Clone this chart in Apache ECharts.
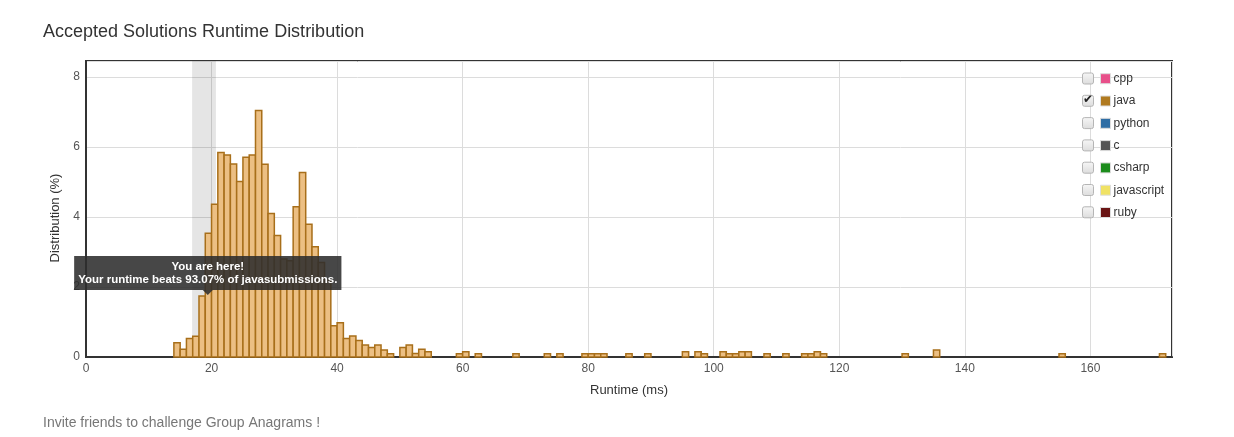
<!DOCTYPE html>
<html>
<head>
<meta charset="utf-8">
<script src="https://cdn.jsdelivr.net/npm/echarts@6/dist/echarts.min.js"></script>
<style>html,body{margin:0;padding:0;background:#fff}#c{width:1234px;height:437px}</style>
</head>
<body>
<div id="c"></div>
<script>
// Runtime bins (ms) — each bar spans [runtime, runtime+1)
var runtimes = [14,15,16,17,18,19,20,21,22,23,24,25,26,27,28,29,30,31,32,33,34,35,36,37,38,39,40,41,42,43,44,45,46,47,48,
  50,51,52,53,54,59,60,62,68,73,75,79,80,81,82,86,89,95,97,98,101,102,103,104,105,108,111,114,115,116,117,130,135,155,171];
// Distribution (%) for java
var distribution = [0.41,0.22,0.53,0.59,1.74,3.53,4.36,5.84,5.77,5.51,5.01,5.70,5.77,7.04,5.50,4.10,3.47,2.80,2.75,4.29,
  5.27,3.79,3.15,2.70,2.20,0.89,0.98,0.53,0.60,0.47,0.34,0.27,0.34,0.20,0.09,
  0.27,0.34,0.10,0.22,0.15,0.09,0.15,0.09,0.09,0.09,0.09,0.09,0.09,0.09,0.09,0.09,0.09,0.15,0.15,0.09,
  0.15,0.09,0.09,0.15,0.15,0.09,0.09,0.09,0.09,0.15,0.09,0.09,0.20,0.09,0.09];
var languages = ['cpp','java','python','c','csharp','javascript','ruby'];
var langColors = ['#e8508a','#b07a20','#2f6ea5','#555555','#1c8c1c','#f0e264','#6a1515'];
var checked = ['java'];
var yourRange = [16.9, 20.7];
var yourPoint = [19.4, 1.84];
var beatsText = 'Your runtime beats 93.07% of javasubmissions.';

var FONT = '"Liberation Sans", Arial, Helvetica, sans-serif';
var chart = echarts.init(document.getElementById('c'));

var histData = runtimes.map(function (r, i) { return [r, distribution[i]]; });

var series = [];
languages.forEach(function (lang, i) {
  if (lang === 'java') {
    series.push({
      name: 'java', type: 'custom', z: 3,
      data: histData,
      encode: { x: 0, y: 1 },
      renderItem: function (params, api) {
        var k = api.value(0), v = api.value(1);
        var p1 = api.coord([k, v]);
        var p0 = api.coord([k + 1, 0]);
        return {
          type: 'rect',
          shape: { x: p1[0], y: p1[1], width: p0[0] - p1[0], height: p0[1] - p1[1] },
          style: { fill: '#ecbf83', stroke: '#a86f1a', lineWidth: 1.5 }
        };
      },
      itemStyle: { color: langColors[i] },
      markPoint: {
        symbol: 'triangle', symbolRotate: 180, symbolSize: [10, 5],
        itemStyle: { color: 'rgba(45,45,45,0.88)' },
        label: {
          show: true, position: 'top', distance: 0,
          formatter: 'You are here!\n' + beatsText,
          backgroundColor: 'rgba(45,45,45,0.88)', color: '#fff',
          fontFamily: FONT, fontWeight: 'bold', fontSize: 11.5, lineHeight: 13,
          align: 'center', padding: [4, 4, 4, 4]
        },
        data: [{ coord: yourPoint }]
      }
    });
  } else {
    series.push({ name: lang, type: 'line', data: [], itemStyle: { color: langColors[i] } });
  }
});
series.push({
  name: 'band', type: 'line', data: [], silent: true,
  markArea: { silent: true, itemStyle: { color: 'rgba(0,0,0,0.1)' }, data: [[{ xAxis: yourRange[0] }, { xAxis: yourRange[1] }]] }
});

var graphics = [];
languages.forEach(function (lang, i) {
  var top = 72.5 + i * 22.3;
  graphics.push({
    type: 'rect', left: 1082, top: top, z: 10,
    shape: { width: 11, height: 11, r: 2 },
    style: { fill: new echarts.graphic.LinearGradient(0, 0, 0, 1, [{ offset: 0, color: '#f7f7f7' }, { offset: 1, color: '#dcdcdc' }]), stroke: '#b5b5b5', lineWidth: 1 }
  });
  if (checked.indexOf(lang) >= 0) {
    graphics.push({
      type: 'text', left: 1083, top: top - 1, z: 11,
      style: { text: '✔', fill: '#222', font: '12px "DejaVu Sans"' }
    });
  }
});

chart.setOption({
  animation: false,
  textStyle: { fontFamily: FONT },
  title: [
    { text: 'Accepted Solutions Runtime Distribution', left: 43, top: 23, padding: 0,
      textStyle: { fontFamily: FONT, fontSize: 18, fontWeight: 'normal', color: '#333' } },
    { text: 'Invite friends to challenge Group Anagrams !', left: 43, top: 416, padding: 0,
      textStyle: { fontFamily: FONT, fontSize: 14, fontWeight: 'normal', color: '#777' } }
  ],
  legend: {
    orient: 'vertical', left: 1100, top: 72.7, itemGap: 10.3, itemWidth: 10, itemHeight: 10, padding: 0,
    icon: 'rect', selectedMode: false,
    data: languages.map(function (l, i) { return { name: l, itemStyle: { color: langColors[i], borderColor: '#ddd', borderWidth: 1 } }; }),
    textStyle: { fontFamily: FONT, fontSize: 12, color: '#333', padding: [0, 0, 4, -2] }
  },
  grid: { left: 86, right: 62, top: 61, bottom: 80, show: true, borderColor: '#333', borderWidth: 2, backgroundColor: 'transparent' },
  xAxis: {
    type: 'value', min: 0, max: 173, interval: 20,
    name: 'Runtime (ms)', nameLocation: 'middle', nameGap: 27,
    nameTextStyle: { fontFamily: FONT, fontSize: 13, color: '#333' },
    axisLine: { show: true, lineStyle: { color: '#333', width: 2 } },
    axisTick: { show: false },
    axisLabel: { color: '#555', fontSize: 12, margin: 6, showMaxLabel: false },
    splitLine: { show: true, lineStyle: { color: '#dcdcdc' } }
  },
  yAxis: {
    type: 'value', min: 0, max: 8.45, interval: 2,
    name: 'Distribution (%)', nameLocation: 'middle', nameGap: 24,
    nameTextStyle: { fontFamily: FONT, fontSize: 13, color: '#333', padding: [0, 18, 0, 0] },
    axisLine: { show: true, lineStyle: { color: '#333', width: 2 } },
    axisTick: { show: false },
    axisLabel: { color: '#555', fontSize: 12, margin: 6, showMaxLabel: false },
    splitLine: { show: true, lineStyle: { color: '#dcdcdc' } }
  },
  graphic: graphics,
  series: series
});
</script>
</body>
</html>
